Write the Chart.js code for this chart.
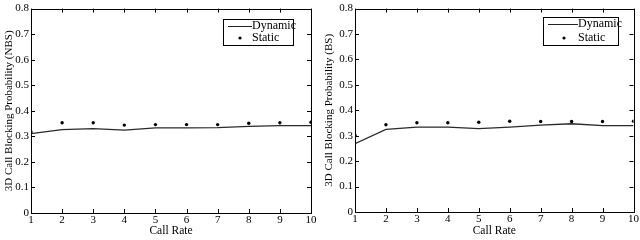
<!DOCTYPE html>
<html><head><meta charset="utf-8">
<script src="https://cdn.jsdelivr.net/npm/chart.js@4/dist/chart.umd.min.js"></script>
<style>
html,body{margin:0;padding:0;background:#fff;}
#wrap{display:flex;width:640px;height:240px;}
canvas{display:block;}
</style></head>
<body>
<div id="wrap">
<canvas id="c1" width="320" height="240"></canvas>
<canvas id="c2" width="320" height="240"></canvas>
</div>
<script>
const callRates = [1,2,3,4,5,6,7,8,9,10];
const yTickLabels = ['0','0.1','0.2','0.3','0.4','0.5','0.6','0.7','0.8'];
const nbsDynamic = [0.311,0.326,0.330,0.324,0.333,0.333,0.334,0.339,0.342,0.342];
const nbsStatic  = [0.317,0.353,0.353,0.344,0.346,0.346,0.346,0.351,0.353,0.355];
const bsDynamic  = [0.269,0.325,0.334,0.334,0.328,0.334,0.342,0.347,0.340,0.340];
const bsStatic   = [0.302,0.343,0.351,0.351,0.353,0.357,0.356,0.356,0.356,0.357];
const seriesNames = ['Dynamic','Static'];
const xTitle = 'Call Rate';
const yTitles = ['3D Call Blocking Probability (NBS)','3D Call Blocking Probability (BS)'];

const FONT = {family:'"Liberation Serif","Times New Roman",serif', size:11};

const boxPlugin = {
  id:'boxPlugin',
  afterDraw(chart){
    const {ctx, chartArea:a, scales:{x,y}} = chart;
    ctx.save();
    ctx.strokeStyle='#000'; ctx.lineWidth=1;
    ctx.strokeRect(Math.round(a.left)+0.5, Math.round(a.top)+0.5, Math.round(a.right-a.left), Math.round(a.bottom-a.top));
    const L=4;
    ctx.beginPath();
    x.ticks.forEach(t=>{const px=Math.round(x.getPixelForValue(t.value))+0.5;
      ctx.moveTo(px,a.bottom);ctx.lineTo(px,a.bottom-L);
      ctx.moveTo(px,a.top);ctx.lineTo(px,a.top+L);});
    y.ticks.forEach(t=>{const py=Math.round(y.getPixelForValue(t.value))+0.5;
      ctx.moveTo(a.left,py);ctx.lineTo(a.left+L,py);
      ctx.moveTo(a.right,py);ctx.lineTo(a.right-L,py);});
    ctx.stroke();
    // legend
    const lg = chart.options.plugins.boxPlugin;
    const bx=Math.round(a.right-lg.dr), by=Math.round(a.top+lg.dt), bw=lg.w, bh=lg.h;
    ctx.fillStyle='#fff'; ctx.fillRect(bx,by,bw,bh);
    ctx.strokeRect(bx+0.5,by+0.5,bw,bh);
    ctx.font='12px "Liberation Serif",serif'; ctx.fillStyle='#000'; ctx.textBaseline='middle';
    const ds = chart.data.datasets;
    const r1 = by+7, r2 = by+bh-7;
    ctx.strokeStyle='#222';
    ctx.beginPath(); ctx.moveTo(bx+5,r1+0.5); ctx.lineTo(bx+lg.tx,r1+0.5); ctx.stroke();
    ctx.fillText(ds[0].label, bx+lg.tx, r1);
    ctx.beginPath(); ctx.arc(bx+lg.dx, r2, 1.6, 0, Math.PI*2); ctx.fill();
    ctx.fillText(ds[1].label, bx+lg.tx, r2);
    ctx.restore();
  }
};

function makeChart(id, dyn, stat, ytitle, pad, yW, xH, lg){
  return new Chart(document.getElementById(id), {
    type:'line',
    data:{datasets:[
      {label:seriesNames[0], data:callRates.map((c,i)=>({x:c,y:dyn[i]})), borderColor:'#2a2a2a', borderWidth:1.3, pointRadius:0, tension:0, fill:false},
      {label:seriesNames[1], data:callRates.map((c,i)=>({x:c,y:stat[i]})), showLine:false, pointRadius:1.7, pointBackgroundColor:'#000', pointBorderWidth:0}
    ]},
    options:{
      responsive:false, animation:false, devicePixelRatio:1,
      layout:{padding:pad},
      plugins:{legend:{display:false}, tooltip:{enabled:false}, boxPlugin:lg},
      scales:{
        x:{type:'linear', min:1, max:10,
           ticks:{stepSize:1, color:'#000', font:FONT, padding:1, maxRotation:0, callback:(v)=>String(v)},
           grid:{display:false, drawTicks:false}, border:{display:false},
           title:{display:true, text:xTitle, color:'#000', font:{...FONT, size:11.5}, padding:{top:0,bottom:0}},
           afterFit:(s)=>{s.height=xH;}},
        y:{type:'linear', min:0, max:0.8,
           ticks:{stepSize:0.1, color:'#000', font:FONT, padding:2, callback:(v,i)=>yTickLabels[i]},
           grid:{display:false, drawTicks:false}, border:{display:false},
           title:{display:true, text:ytitle, color:'#000', font:{...FONT, size:11}, padding:{top:0,bottom:1}},
           afterFit:(s)=>{s.width=yW;}}
      }
    },
    plugins:[boxPlugin]
  });
}
makeChart('c1', nbsDynamic, nbsStatic, yTitles[0], {left:3,right:9,top:7,bottom:2}, 28, 25, {dr:88,dt:10,w:70,h:26,tx:29,dx:17});
makeChart('c2', bsDynamic, bsStatic, yTitles[1], {left:3,right:6,top:6,bottom:2}, 32, 26, {dr:91,dt:8,w:75,h:28,tx:35,dx:21});
</script>
</body></html>
